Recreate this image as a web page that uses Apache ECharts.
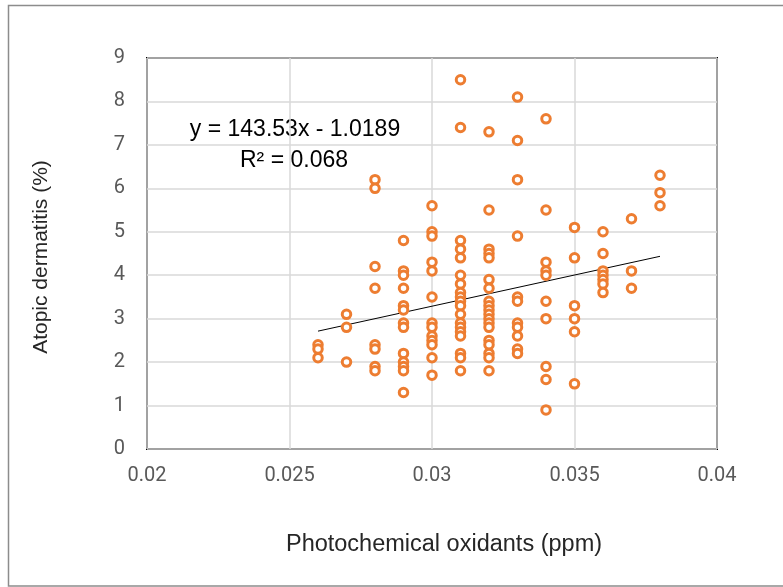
<!DOCTYPE html>
<html>
<head>
<meta charset="utf-8">
<script src="https://cdn.jsdelivr.net/npm/echarts@6/dist/echarts.min.js"></script>
<style>
html,body{margin:0;padding:0;background:#fff;}
#chart{width:783px;height:587px;}
</style>
</head>
<body>
<div id="chart"></div>
<script>
// Photochemical oxidants (ppm) — x values
var ozone = [
  0.026,0.026,0.026,
  0.027,0.027,0.027,
  0.028,0.028,0.028,0.028,0.028,0.028,0.028,0.028,
  0.029,0.029,0.029,0.029,0.029,0.029,0.029,0.029,0.029,0.029,0.029,0.029,0.029,
  0.030,0.030,0.030,0.030,0.030,0.030,0.030,0.030,0.030,0.030,0.030,0.030,0.030,
  0.031,0.031,0.031,0.031,0.031,0.031,0.031,0.031,0.031,0.031,0.031,0.031,0.031,0.031,0.031,0.031,0.031,0.031,0.031,
  0.032,0.032,0.032,0.032,0.032,0.032,0.032,0.032,0.032,0.032,0.032,0.032,0.032,0.032,0.032,0.032,0.032,0.032,0.032,
  0.033,0.033,0.033,0.033,0.033,0.033,0.033,0.033,0.033,0.033,0.033,
  0.034,0.034,0.034,0.034,0.034,0.034,0.034,0.034,0.034,0.034,
  0.035,0.035,0.035,0.035,0.035,0.035,
  0.036,0.036,0.036,0.036,0.036,0.036,0.036,
  0.037,0.037,0.037,
  0.038,0.038,0.038
];
// Atopic dermatitis (%) — y values
var atopic = [
  2.4,2.3,2.1,
  3.1,2.8,2.0,
  6.2,6.0,4.2,3.7,2.4,2.3,1.9,1.8,
  4.8,4.1,4.0,3.7,3.3,3.2,2.9,2.8,2.2,2.0,1.9,1.8,1.3,
  5.6,5.0,4.9,4.3,4.1,3.5,2.9,2.8,2.6,2.5,2.4,2.1,1.7,
  8.5,7.4,4.8,4.6,4.4,4.0,3.8,3.6,3.5,3.4,3.3,3.1,2.9,2.8,2.7,2.6,2.2,2.1,1.8,
  7.3,5.5,4.6,4.5,4.4,3.9,3.7,3.4,3.3,3.2,3.1,3.0,2.9,2.8,2.5,2.4,2.2,2.1,1.8,
  8.1,7.1,6.2,4.9,3.5,3.4,2.9,2.8,2.6,2.3,2.2,
  7.6,5.5,4.3,4.1,4.0,3.4,3.0,1.9,1.6,0.9,
  5.1,4.4,3.3,3.0,2.7,1.5,
  5.0,4.5,4.1,4.0,3.9,3.8,3.6,
  5.3,4.1,3.7,
  6.3,5.9,5.6
];
var xTicks = ['0.02','0.025','0.03','0.035','0.04'];
var yTicks = ['0','1','2','3','4','5','6','7','8','9'];
var trendSlope = 143.53;
var trendIntercept = -1.0189;
var trendR2 = '0.068';

var points = ozone.map(function(x, i){ return [x, atopic[i]]; });
var xmin = Math.min.apply(null, ozone), xmax = Math.max.apply(null, ozone);
var trend = [[xmin, trendSlope*xmin + trendIntercept], [xmax, trendSlope*xmax + trendIntercept]];

var chart = echarts.init(document.getElementById('chart'), null, {renderer:'canvas'});
var labelFont = 'Roboto, "Noto Sans", sans-serif';
var titleFont = '"Liberation Sans", Arial, sans-serif';
chart.setOption({
  animation:false,
  backgroundColor:'#fff',
  grid:{left:147, top:58, right:66, bottom:138, show:true, borderColor:'#000', borderWidth:2, backgroundColor:'transparent', containLabel:false},
  xAxis:{
    type:'value', min:0.02, max:0.04, interval:0.005,
    axisLine:{show:false}, axisTick:{show:false},
    axisLabel:{color:'#595959', fontSize:20, fontFamily:labelFont, margin:17,
      formatter:function(v){ var s = xTicks.filter(function(t){return Math.abs(parseFloat(t)-v)<1e-9;}); return s.length?s[0]:''; }},
    splitLine:{show:true, lineStyle:{color:'#d9d9d9', width:1.5}}
  },
  yAxis:{
    type:'value', min:0, max:9, interval:1,
    axisLine:{show:false}, axisTick:{show:false},
    axisLabel:{color:'#595959', fontSize:20, fontFamily:labelFont, margin:22,
      formatter:function(v){ return yTicks[Math.round(v)]; }},
    splitLine:{show:true, lineStyle:{color:'#d9d9d9', width:1.5}}
  },
  series:[
    {type:'scatter', data:points, symbol:'circle', symbolSize:8.5,
     itemStyle:{color:'#ffffff', borderColor:'#ED7D31', borderWidth:3, opacity:1}, z:3},
    {type:'line', data:trend, showSymbol:false, symbol:'none',
     lineStyle:{color:'#000', width:1}, z:2}
  ],
  graphic:[
    {type:'rect', shape:{x:8.5, y:5.5, width:790, height:580.5}, style:{fill:'none', stroke:'#8c8c8c', lineWidth:1.5}, z:-1},
    {type:'text', x:444, y:545, style:{text:'Photochemical oxidants (ppm)', font:'23.5px '+titleFont, fill:'#262626', textAlign:'center', textVerticalAlign:'middle'}},
    {type:'text', x:41, y:257, rotation:Math.PI/2, style:{text:'Atopic dermatitis (%)', font:'21px '+titleFont, fill:'#262626', textAlign:'center', textVerticalAlign:'middle'}},
    {type:'text', x:295, y:130, style:{text:'y = 143.53x - 1.0189', font:'23px '+titleFont, fill:'#000', textAlign:'center', textVerticalAlign:'middle'}},
    {type:'text', x:294, y:161, style:{text:'R² = ' + trendR2, font:'23px '+titleFont, fill:'#000', textAlign:'center', textVerticalAlign:'middle'}}
  ]
});
</script>
</body>
</html>
